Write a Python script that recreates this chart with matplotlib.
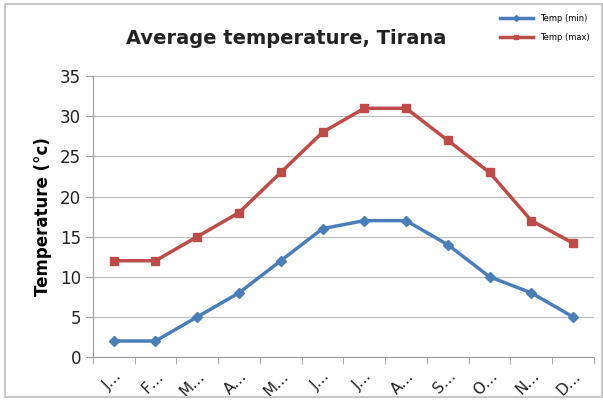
import matplotlib
matplotlib.use("Agg")
import matplotlib.pyplot as plt
from matplotlib.patches import Rectangle

months = ["J…", "F…", "M…", "A…", "M…", "J…", "J…", "A…", "S…", "O…", "N…", "D…"]
temp_min = [2, 2, 5, 8, 12, 16, 17, 17, 14, 10, 8, 5]
temp_max = [12, 12, 15, 18, 23, 28, 31, 31, 27, 23, 17, 14.2]

fig = plt.figure(figsize=(6.03, 4.03), dpi=100)
fig.patches.append(Rectangle((0.008, 0.015), 0.99, 0.975, transform=fig.transFigure,
                             fill=False, edgecolor="#c8c8c8", linewidth=1.5))
ax = fig.add_axes([0.154, 0.114, 0.831, 0.697])

x = list(range(len(months)))
ax.plot(x, temp_min, color="#4A7EBB", linewidth=2.5, marker="D", markersize=5, label="Temp (min)")
ax.plot(x, temp_max, color="#BE4B48", linewidth=2.5, marker="s", markersize=6, label="Temp (max)")

ax.set_xlim(-0.5, 11.5)
ax.set_ylim(0, 35)
ax.set_yticks(range(0, 36, 5))
ax.set_xticks(x)
ax.set_xticklabels(months, rotation=45, ha="right", rotation_mode="anchor", fontsize=11, color="#222222")
ax.set_xticks([i - 0.5 for i in range(13)], minor=True)
ax.tick_params(axis="x", which="major", length=0, pad=8)
ax.tick_params(axis="x", which="minor", length=5, color="#999999")
ax.tick_params(axis="y", labelsize=12, length=5, color="#999999", labelcolor="#222222")
ax.grid(axis="y", color="#bbbbbb", linewidth=0.8)
ax.set_axisbelow(True)
for s in ["top", "right"]:
    ax.spines[s].set_visible(False)
ax.spines["left"].set_color("#999999")
ax.spines["bottom"].set_color("#999999")

ax.set_ylabel("Temperature (°c)", fontsize=12, fontweight="bold", labelpad=6)
fig.text(0.475, 0.905, "Average temperature, Tirana", ha="center", va="center",
         fontsize=14, fontweight="bold", color="#222222")
fig.legend(loc="upper right", bbox_to_anchor=(0.99, 0.985), fontsize=6, frameon=False,
           handlelength=4, labelspacing=1.2, markerscale=0.6)

fig.savefig("out.png", dpi=100)
